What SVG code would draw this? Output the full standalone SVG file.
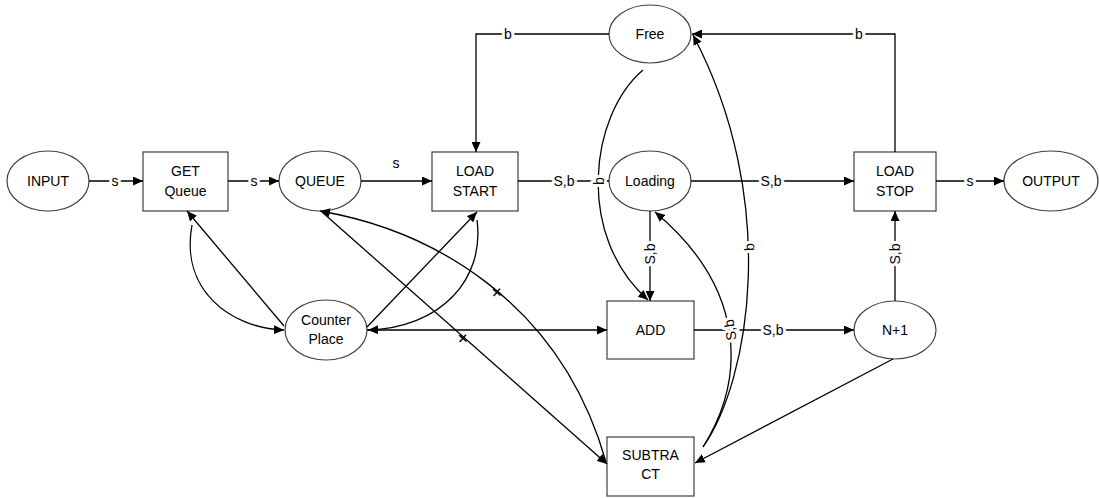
<svg xmlns="http://www.w3.org/2000/svg" width="1099" height="498" viewBox="0 0 1099 498">
  <style>
    .node { fill: #ffffff; stroke: #404040; stroke-width: 1.2; }
    .txt { font-family: "Liberation Sans", Arial, sans-serif; font-size: 14px; fill: #000; text-anchor: middle; }
    .edge { fill: none; stroke: #000; stroke-width: 1.3; }
    .lbl { font-family: "Liberation Sans", Arial, sans-serif; font-size: 14px; fill: #000; text-anchor: middle; stroke: #fff; stroke-width: 6; stroke-linejoin: round; paint-order: stroke; }
    .plus { font-family: "Liberation Sans", Arial, sans-serif; font-size: 20px; fill: #000; text-anchor: middle; }
  </style>
  <defs>
    <marker id="arr" viewBox="0 0 10 9" markerWidth="10" markerHeight="9" refX="10" refY="4.5" orient="auto" markerUnits="userSpaceOnUse">
      <path d="M0,0 L10,4.5 L0,9 z" fill="#000"/>
    </marker>
  </defs>
  <rect width="1099" height="498" fill="#fff"/>

  <!-- places and transitions -->
  <g id="input"><ellipse class="node" cx="48" cy="181" rx="41" ry="30"/><text class="txt" x="48" y="186">INPUT</text></g>
  <g id="get-queue"><rect class="node" x="143" y="152" width="85" height="59"/><text class="txt" x="185.5" y="176">GET</text><text class="txt" x="185.5" y="196">Queue</text></g>
  <g id="queue"><ellipse class="node" cx="320" cy="181" rx="41" ry="30"/><text class="txt" x="320" y="186">QUEUE</text></g>
  <g id="load-start"><rect class="node" x="432" y="152" width="86" height="59"/><text class="txt" x="475" y="176">LOAD</text><text class="txt" x="475" y="196">START</text></g>
  <g id="loading"><ellipse class="node" cx="650" cy="181" rx="41" ry="30"/><text class="txt" x="650" y="186">Loading</text></g>
  <g id="load-stop"><rect class="node" x="854" y="152" width="82" height="59"/><text class="txt" x="895" y="176">LOAD</text><text class="txt" x="895" y="196">STOP</text></g>
  <g id="output"><ellipse class="node" cx="1051" cy="181" rx="47" ry="30"/><text class="txt" x="1051" y="186">OUTPUT</text></g>
  <g id="free"><ellipse class="node" cx="650" cy="34" rx="41" ry="29"/><text class="txt" x="650" y="39">Free</text></g>
  <g id="counter-place"><ellipse class="node" cx="326" cy="330" rx="41" ry="30"/><text class="txt" x="326" y="325">Counter</text><text class="txt" x="326" y="344">Place</text></g>
  <g id="add"><rect class="node" x="607" y="301" width="87" height="58"/><text class="txt" x="650.5" y="335">ADD</text></g>
  <g id="subtract"><rect class="node" x="607" y="437" width="87" height="59"/><text class="txt" x="650.5" y="460">SUBTRA</text><text class="txt" x="650.5" y="479">CT</text></g>
  <g id="n-plus-1"><ellipse class="node" cx="895" cy="330" rx="41" ry="29"/><text class="txt" x="895" y="335">N+1</text></g>

  <!-- arcs -->
  <g id="connectors">
    <path class="edge" d="M89,181 H143" marker-end="url(#arr)"/>
    <path class="edge" d="M228,181 H279" marker-end="url(#arr)"/>
    <path class="edge" d="M361,181 H432" marker-end="url(#arr)"/>
    <path class="edge" d="M518,181 H609" marker-end="url(#arr)"/>
    <path class="edge" d="M691,181 H854" marker-end="url(#arr)"/>
    <path class="edge" d="M936,181 H1004" marker-end="url(#arr)"/>
    <path class="edge" d="M609,34 H476 V152" marker-end="url(#arr)"/>
    <path class="edge" d="M895,152 V34 H692" marker-end="url(#arr)"/>
    <path class="edge" d="M895,301 V211" marker-end="url(#arr)"/>
    <path class="edge" d="M694,330 H854" marker-end="url(#arr)"/>
    <path class="edge" d="M367,330 H607" marker-end="url(#arr)"/>
    <path class="edge" d="M650,211 V301" marker-end="url(#arr)"/>
    <path class="edge" d="M643,70 C590,115 575,235 648,300" marker-end="url(#arr)"/>
    <path class="edge" d="M703,447 C750,380 780,200 693,35" marker-end="url(#arr)"/>
    <path class="edge" d="M703,447 C745,380 748,290 655,212" marker-end="url(#arr)"/>
    <path class="edge" d="M893,359 L695,463" marker-end="url(#arr)"/>
    <path class="edge" d="M192,225 C180,290 230,328 284,330" marker-end="url(#arr)"/>
    <path class="edge" d="M284,326 L187,211" marker-end="url(#arr)"/>
    <path class="edge" d="M477,220 C485,280 440,328 368,330" marker-end="url(#arr)"/>
    <path class="edge" d="M367,327 L477,212" marker-end="url(#arr)"/>
    <path class="edge" d="M606,462 C560,300 430,230 320,211" marker-end="url(#arr)"/>
    <path class="edge" d="M322,212 L607,464" marker-end="url(#arr)"/>

    <!-- arc inscriptions -->
    <text class="lbl" x="115" y="186">s</text>
    <text class="lbl" x="254" y="186">s</text>
    <text class="lbl" x="396" y="168">s</text>
    <text class="lbl" x="564" y="186">S,b</text>
    <text class="lbl" x="771" y="186">S,b</text>
    <text class="lbl" x="970" y="186">s</text>
    <text class="lbl" x="508" y="39">b</text>
    <text class="lbl" x="859" y="39">b</text>
    <text class="lbl" x="773" y="335">S,b</text>
    <text class="lbl" transform="translate(599,181) rotate(-90)" y="5">b</text>
    <text class="lbl" transform="translate(749,247) rotate(-92)" y="5">b</text>
    <text class="lbl" transform="translate(650,254) rotate(-90)" y="5">S,b</text>
    <text class="lbl" transform="translate(895,254) rotate(-90)" y="5">S,b</text>
    <text class="lbl" transform="translate(730,330) rotate(-98)" y="5">S,b</text>
    <text class="plus" transform="translate(497,292) rotate(41)" y="7">+</text>
    <text class="plus" transform="translate(463,338) rotate(41)" y="7">+</text>
  </g>
</svg>
